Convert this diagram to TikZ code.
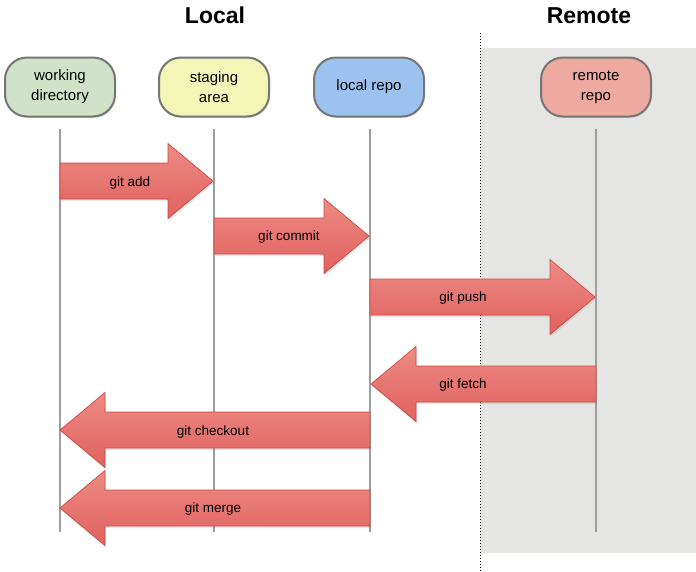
\documentclass[tikz,border=0pt]{standalone}
\usepackage{fontspec}
\setmainfont{Liberation Sans}
\usetikzlibrary{calc,shadows}
\definecolor{wdfill}{RGB}{208,227,200}
\definecolor{safill}{RGB}{244,246,183}
\definecolor{lrfill}{RGB}{156,194,239}
\definecolor{rrfill}{RGB}{238,170,160}
\definecolor{repoborder}{RGB}{118,118,118}
\definecolor{lifegray}{RGB}{158,158,158}
\definecolor{remotebg}{RGB}{229,230,228}
\definecolor{arrowtop}{RGB}{237,138,132}
\definecolor{arrowbot}{RGB}{224,98,94}
\definecolor{arrowedge}{RGB}{208,72,68}
\newcommand\gitarrow[2]{%
  \path[fatarrow] let \p1=(#1), \p2=(#2), \n1={sign(\x2-\x1)} in
    (\x1,{\y1+18pt}) -- ({\x2-(\n1)*45pt},{\y1+18pt}) -- ({\x2-(\n1)*45pt},{\y1+37.5pt})
    -- (\x2,\y2) -- ({\x2-(\n1)*45pt},{\y1-37.5pt}) -- ({\x2-(\n1)*45pt},{\y1-18pt})
    -- (\x1,{\y1-18pt}) -- cycle;}
\begin{document}
\begin{tikzpicture}[x=1pt,y=-1pt,
  repo/.style={draw=repoborder, line width=2pt, rounded corners=22pt,
    minimum width=110pt, minimum height=59pt, align=center, inner sep=0pt,
    font=\fontsize{15}{20}\selectfont,
    drop shadow={shadow xshift=0.8pt, shadow yshift=-1.5pt, opacity=0.25}},
  lifeline/.style={draw=lifegray, line width=2.4pt},
  fatarrow/.style={top color=arrowtop, bottom color=arrowbot, draw=arrowedge, line width=0.7pt,
    drop shadow={shadow xshift=1pt, shadow yshift=-2pt, opacity=0.2}},
  lbl/.style={font=\fontsize{13.5}{16}\selectfont, inner sep=0pt},
  title/.style={font=\bfseries\fontsize{23}{27}\selectfont, anchor=base, inner sep=0pt},
  sep/.style={draw=black, line width=1pt, dash pattern=on 1.2pt off 1.8pt}]
\useasboundingbox (0,0) rectangle (696,571);
% remote background and separator
\fill[remotebg] (480,48) rectangle (696,553);
\coordinate (septop) at (480,33);
\coordinate (sepbot) at (480,571);
\draw[sep] (septop) -- (sepbot);
% titles
\node[title] (local) at (215,23) {Local};
\node[title] (remote) at (589,23) {Remote};
% repositories
\node[repo, fill=wdfill] (wd) at (60,87) {working\\directory};
\node[repo, fill=safill] (sa) at (214,87) {staging\\area};
\node[repo, fill=lrfill] (lr) at (369,87) {local repo};
\node[repo, fill=rrfill] (rr) at (596,87) {remote\\repo};
% lifelines
\coordinate (wd-bot) at (60,532);
\coordinate (sa-bot) at (214,532);
\coordinate (lr-bot) at (370,532);
\coordinate (rr-bot) at (596,532);
\draw[lifeline] ([yshift=-11pt]wd.south) -- (wd-bot);
\draw[lifeline] ([yshift=-11pt]sa.south) -- (sa-bot);
\draw[lifeline] ([xshift=1pt,yshift=-11pt]lr.south) -- (lr-bot);
\draw[lifeline] ([yshift=-11pt]rr.south) -- (rr-bot);
% arrow end points on the lifelines
\coordinate (add-s) at (60,181);   \coordinate (add-e) at (213,181);
\coordinate (com-s) at (214,236);  \coordinate (com-e) at (369,236);
\coordinate (push-s) at (370,297); \coordinate (push-e) at (595,297);
\coordinate (fet-s) at (596,384);  \coordinate (fet-e) at (371,384);
\coordinate (chk-s) at (370,430);  \coordinate (chk-e) at (60,430);
\coordinate (mrg-s) at (370,508);  \coordinate (mrg-e) at (60,508);
\gitarrow{add-s}{add-e}
\gitarrow{com-s}{com-e}
\gitarrow{push-s}{push-e}
\gitarrow{fet-s}{fet-e}
\gitarrow{chk-s}{chk-e}
\gitarrow{mrg-s}{mrg-e}
% labels
\node[lbl] (l-add) at (130,183) {git add};
\node[lbl] (l-com) at (289,237) {git commit};
\node[lbl] (l-push) at (463,298) {git push};
\node[lbl] (l-fet) at (463,385) {git fetch};
\node[lbl] (l-chk) at (213,432) {git checkout};
\node[lbl] (l-mrg) at (213,509) {git merge};
\end{tikzpicture}
\end{document}
